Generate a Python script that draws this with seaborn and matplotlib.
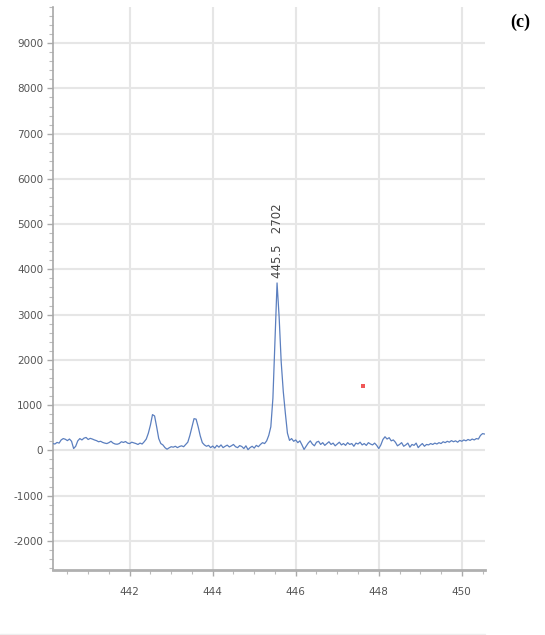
import numpy as np
import pandas as pd
import matplotlib
matplotlib.use("Agg")
import matplotlib.pyplot as plt
from matplotlib.ticker import MultipleLocator
import seaborn as sns

# ---- data ----
wl_start = 440.15
wl_step = 0.05
intensity = [
    # 440.15 - 441.10
    150, 140, 175, 160, 230, 260, 245, 215, 250, 200, 40, 90, 210, 260, 230, 270, 285, 240, 265, 250,
    # 441.15 - 442.10
    230, 215, 190, 200, 175, 160, 150, 170, 200, 160, 140, 135, 150, 190, 175, 195, 160, 150, 180, 165,
    # 442.15 - 443.10
    150, 130, 160, 140, 190, 250, 380, 560, 790, 760, 520, 260, 150, 120, 60, 25, 55, 80, 70, 90,
    # 443.15 - 444.10
    60, 85, 100, 80, 130, 180, 330, 520, 700, 690, 520, 320, 170, 120, 90, 110, 60, 95, 50, 110,
    # 444.15 - 445.10
    70, 120, 60, 90, 115, 75, 100, 130, 80, 60, 105, 85, 40, 100, 15, 60, 90, 50, 110, 80,
    # 445.15 - 446.10
    130, 170, 150, 210, 330, 520, 1150, 2400, 3700, 2950, 1950, 1300, 820, 380, 220, 260, 200, 230, 170, 210,
    # 446.15 - 447.10
    120, 20, 90, 160, 210, 140, 100, 180, 200, 130, 170, 110, 150, 190, 130, 160, 100, 140, 180, 120,
    # 447.15 - 448.10
    150, 110, 170, 130, 150, 90, 160, 140, 180, 120, 150, 110, 170, 140, 120, 160, 110, 40, 120, 240,
    # 448.15 - 449.10
    300, 250, 280, 210, 230, 180, 100, 130, 170, 90, 120, 160, 70, 130, 110, 160, 60, 110, 150, 90,
    # 449.15 - 450.10
    130, 120, 150, 130, 160, 140, 170, 150, 190, 170, 200, 180, 215, 190, 210, 180, 220, 200, 230, 210,
    # 450.15 - 450.55
    240, 220, 250, 230, 260, 250, 330, 370, 360,
]
wavelength = np.round(wl_start + wl_step * np.arange(len(intensity)), 3)

peak_label = "445.5   2702"
peak_x = 445.57
peak_label_y = 3800
marker_x = [447.62]
marker_y = [1416]

x_ticks = [442, 444, 446, 448, 450]
y_ticks = [-2000, -1000, 0, 1000, 2000, 3000, 4000, 5000, 6000, 7000, 8000, 9000]

df = pd.DataFrame({"wavelength": wavelength, "intensity": intensity})

# ---- figure ----
sns.set_style("white")
plt.rcParams["font.family"] = ["DejaVu Sans"]
plt.rcParams["axes.unicode_minus"] = False

fig = plt.figure(figsize=(5.45, 6.35), dpi=100)
ax = fig.add_axes([0.097, 0.102, 0.793, 0.887])

ax.grid(True, which="major", color="#e6e6e6", linewidth=1.5)
ax.set_axisbelow(True)

sns.lineplot(data=df, x="wavelength", y="intensity", ax=ax,
             color="#5b7fbf", linewidth=0.9, zorder=3)

ax.plot(marker_x, marker_y, "s", color="#ee3a3a", markersize=3,
        markeredgewidth=0, alpha=0.85, zorder=4)

ax.text(peak_x, peak_label_y, peak_label, rotation=90, ha="center", va="bottom",
        fontsize=8.5, color="#444444", zorder=5)

ax.set_xlim(440.15, 450.56)
ax.set_ylim(-2650, 9800)
ax.set_xticks(x_ticks)
ax.set_yticks(y_ticks)
ax.xaxis.set_minor_locator(MultipleLocator(0.5))
ax.yaxis.set_minor_locator(MultipleLocator(200))

ax.set_xlabel("")
ax.set_ylabel("")

for s in ["top", "right"]:
    ax.spines[s].set_visible(False)
ax.spines["left"].set_color("#a8a8a8")
ax.spines["left"].set_linewidth(1.2)
ax.spines["bottom"].set_color("#b0b0b0")
ax.spines["bottom"].set_linewidth(2.0)

ax.tick_params(axis="both", which="both", bottom=True, left=True,
               top=False, right=False, direction="out")
ax.tick_params(axis="both", which="major", length=4, width=1.0, color="#aaaaaa",
               labelsize=7.5, labelcolor="#555555")
ax.tick_params(axis="both", which="minor", length=3, width=0.8, color="#bbbbbb")
ax.tick_params(axis="x", which="major", pad=8)
ax.tick_params(axis="y", which="major", pad=3)

fig.text(0.955, 0.965, "(c)", fontsize=13, fontweight="bold",
         family="Liberation Serif", ha="center", va="center", color="black")

fig.add_artist(plt.Line2D([0, 0.89], [0.002, 0.002], color="#eeeeee",
                          linewidth=1.0, transform=fig.transFigure))

fig.savefig("out.png", dpi=100)
